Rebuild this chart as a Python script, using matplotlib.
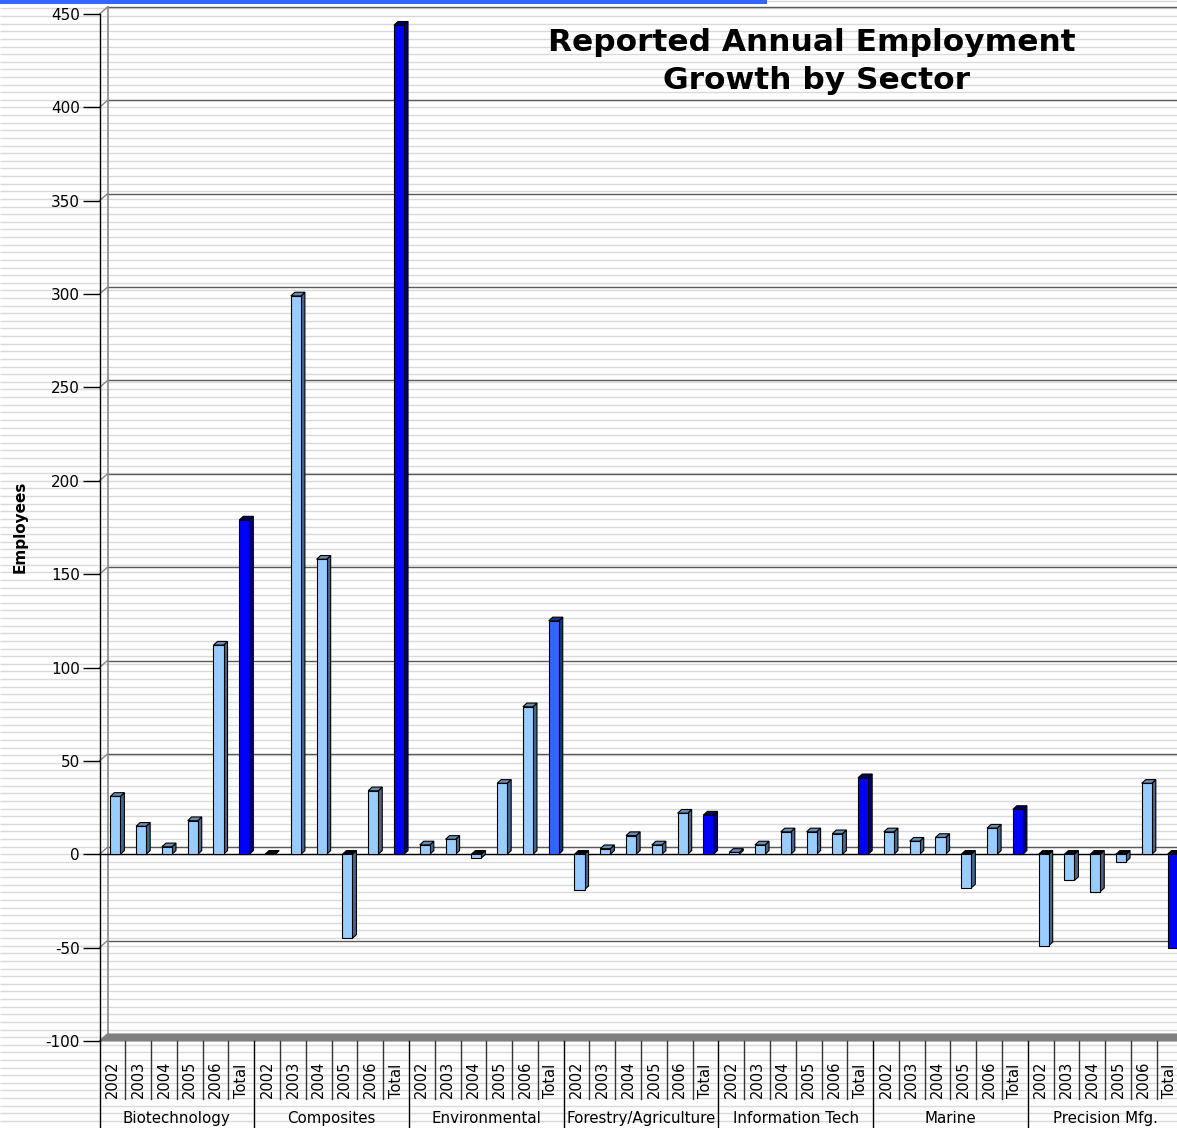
import numpy as np
import matplotlib
matplotlib.use("Agg")
import matplotlib.pyplot as plt
from matplotlib.patches import Polygon, Rectangle

plt.rcParams["axes.unicode_minus"] = False

# ---------------- data ----------------
sectors = ["Biotechnology", "Composites", "Environmental", "Forestry/Agriculture",
           "Information Tech", "Marine", "Precision Mfg."]
periods = ["2002", "2003", "2004", "2005", "2006", "Total"]
biotechnology = [31, 15, 4, 18, 112, 179]
composites = [0, 299, 158, -45, 34, 444]
environmental = [5, 8, -2, 38, 79, 125]
forestry_agriculture = [-19, 3, 10, 5, 22, 21]
information_tech = [1, 5, 12, 12, 11, 41]
marine = [12, 7, 9, -18, 14, 24]
precision_mfg = [-49, -14, -20, -4, 38, -50]
y_ticks = list(range(-100, 451, 50))
title_lines = ["Reported Annual Employment", "Growth by Sector"]
y_label = "Employees"

series = [biotechnology, composites, environmental, forestry_agriculture,
          information_tech, marine, precision_mfg]

# ---------------- figure ----------------
W, H = 1177, 1128
fig = plt.figure(figsize=(W / 100, H / 100), dpi=100)
fig.patch.set_facecolor("white")

# striped background
bg = fig.add_axes([0, 0, 1, 1], zorder=-10)
bg.set_xlim(0, W)
bg.set_ylim(H, 0)
bg.axis("off")
bg.hlines(np.arange(0.8, H, 7.62), 0, W, color="#d9d9d9", lw=1.0, zorder=1)
bg.add_patch(Rectangle((0, 0), 767, 4.0, color="#3366ff", lw=0, zorder=3))

# main axes (front plane)
x_left, x_right = 99.5, 1182.5
y_top, y_bot = 14, 1041
ax = fig.add_axes([x_left / W, (H - y_bot) / H, (x_right - x_left) / W, (y_bot - y_top) / H])
ax.set_facecolor("none")
n_slots = len(sectors) * len(periods)
ax.set_xlim(0, n_slots)
ax.set_ylim(-100, 450)
px_x = (x_right - x_left) / n_slots
px_y = (y_bot - y_top) / 550.0

for s in ["top", "right", "bottom"]:
    ax.spines[s].set_visible(False)
ax.spines["left"].set_color("black")
ax.spines["left"].set_linewidth(1.0)
ax.set_xticks([])
ax.set_yticks(y_ticks)
ax.tick_params(axis="y", direction="out", length=12, width=1.0, color="black",
               pad=2, labelsize=11)
for lab in ax.get_yticklabels():
    lab.set_family("DejaVu Sans")

# walls / depth
wdx, wdy = 8 / px_x, 7 / px_y
grid_col = "#5a5a5a"
wall_col = "#888888"
for t in y_ticks:
    if t > -100:
        ax.plot([wdx, n_slots + wdx], [t + wdy, t + wdy], color=grid_col, lw=1.0,
                clip_on=False, zorder=1)
    ax.plot([0, wdx], [t, t + wdy], color=wall_col, lw=1.0, clip_on=False, zorder=1)
ax.plot([wdx, wdx], [-100 + wdy, 450 + wdy], color=wall_col, lw=1.2, clip_on=False, zorder=1)
# floor
ax.add_patch(Polygon([(0, -100), (n_slots, -100), (n_slots + wdx, -100 + wdy), (wdx, -100 + wdy)],
                     closed=True, facecolor="#808080", edgecolor="#808080", lw=0.8,
                     clip_on=False, zorder=2))
# front zero line
ax.plot([0, n_slots], [0, 0], color="black", lw=1.0, clip_on=False, zorder=2)

# ---------------- bars ----------------
light = ("#99ccff", "#4a6585", "#6d8db0")
total_dark = ("#0000ff", "#00007a", "#000066")
total_env = ("#3366ff", "#1a3380", "#1a3380")
bw = 0.39
bdx, bdy = 4 / px_x, 3.7 / px_y

for g, vals in enumerate(series):
    for j, v in enumerate(vals):
        idx = g * len(periods) + j
        if j == len(periods) - 1:
            cols = total_env if sectors[g] == "Environmental" else total_dark
        else:
            cols = light
        x0 = idx + 0.42
        ax.bar(x0, v, width=bw, align="edge", bottom=0, facecolor=cols[0],
               edgecolor="black", lw=0.8, zorder=5)
        # side face
        ax.add_patch(Polygon([(x0 + bw, 0), (x0 + bw, v), (x0 + bw + bdx, v + bdy),
                              (x0 + bw + bdx, bdy)], closed=True, facecolor=cols[1],
                             edgecolor="black", lw=0.8, zorder=4))
        # top face
        ty = v if v > 0 else 0
        tcol = cols[2] if v > 0 else "black"
        ax.add_patch(Polygon([(x0, ty), (x0 + bw, ty), (x0 + bw + bdx, ty + bdy),
                              (x0 + bdx, ty + bdy)], closed=True, facecolor=tcol,
                             edgecolor="black", lw=0.8, zorder=4, clip_on=False))

# ---------------- category table below ----------------
xt = ax.get_xaxis_transform()
ax_h = y_bot - y_top
y_sep = -(1099 - y_bot) / ax_h
y_end = -(H - y_bot + 5) / ax_h
y_grp = -(1118.5 - y_bot) / ax_h
ax.plot([0, 0], [0, y_end], color="black", lw=1.0, transform=xt, clip_on=False)
for k in range(1, n_slots + 1):
    if k % len(periods) == 0:
        ax.plot([k, k], [0, y_end], color="black", lw=1.0, transform=xt, clip_on=False)
    else:
        ax.plot([k, k], [0, y_sep], color="#333333", lw=1.0, transform=xt, clip_on=False)
for g, name in enumerate(sectors):
    for j, p in enumerate(periods):
        idx = g * len(periods) + j
        ax.text(idx + 0.5, y_sep + 1.5 / ax_h, p, rotation=90, ha="center", va="bottom",
                fontsize=10.5, family="DejaVu Sans", transform=xt, clip_on=False)
    ax.text(g * len(periods) + len(periods) / 2, y_grp, name, ha="center", va="center",
            fontsize=10.8, family="DejaVu Sans", transform=xt, clip_on=False)

# ---------------- labels ----------------
fig.text(20 / W, 1 - 527 / H, y_label, rotation=90, ha="center", va="center",
         fontsize=11, fontweight="bold", family="DejaVu Sans")
fig.text(812 / W, 1 - 51 / H, title_lines[0], ha="center", va="baseline",
         fontsize=22.5, fontweight="bold", family="DejaVu Sans")
fig.text(817 / W, 1 - 89 / H, title_lines[1], ha="center", va="baseline",
         fontsize=22.5, fontweight="bold", family="DejaVu Sans")

fig.savefig("out.png", dpi=100, facecolor="white")
